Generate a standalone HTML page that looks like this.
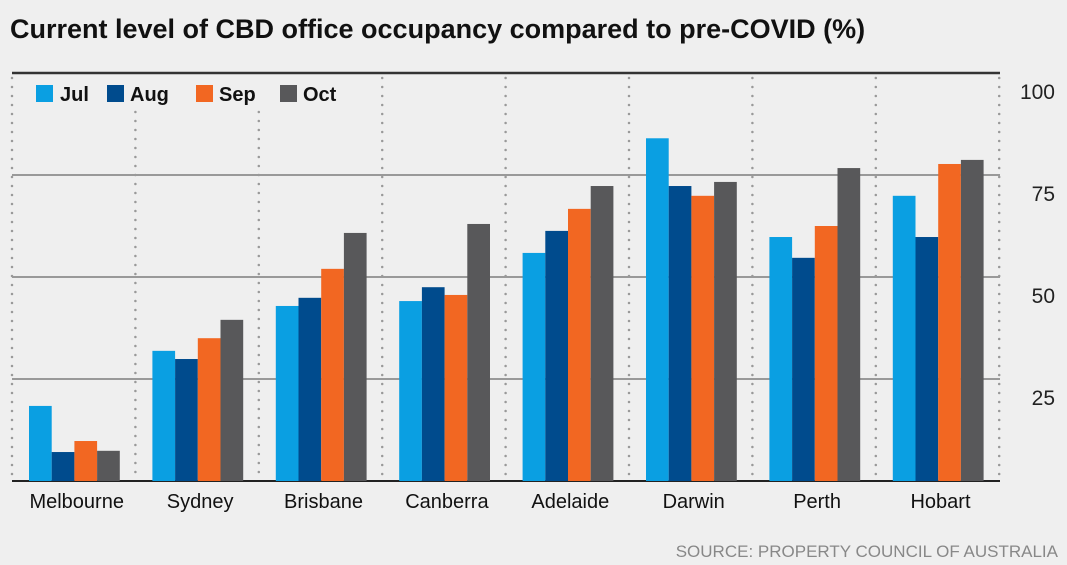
<!DOCTYPE html>
<html><head><meta charset="utf-8"><style>
body{margin:0;background:#efefef;}
svg{display:block;font-family:"Liberation Sans",sans-serif;}
</style></head><body>
<svg id="c" width="1067" height="565" viewBox="0 0 1067 565">
<rect width="1067" height="565" fill="#efefef"/>
<text x="10" y="38" font-size="27" font-weight="bold" fill="#111">Current level of CBD office occupancy compared to pre-COVID (%)</text>
<g id="grid"></g><g id="bars"></g><g id="labels"></g>
<g font-size="20" font-weight="bold" fill="#111">
<rect x="36" y="85" width="17" height="17" fill="#0a9fe2"/><text x="60" y="101">Jul</text>
<rect x="107" y="85" width="17" height="17" fill="#004b8d"/><text x="130" y="101">Aug</text>
<rect x="196" y="85" width="17" height="17" fill="#f26722"/><text x="219" y="101">Sep</text>
<rect x="280" y="85" width="17" height="17" fill="#58585a"/><text x="303" y="101">Oct</text>
</g>
<text x="1058" y="557" font-size="17" fill="#888" text-anchor="end">SOURCE: PROPERTY COUNCIL OF AUSTRALIA</text>
</svg>
<script>
const categories=["Melbourne","Sydney","Brisbane","Canberra","Adelaide","Darwin","Perth","Hobart"];
const julValues=[18.4,31.9,42.9,44.1,55.9,84,59.8,69.9];
const augValues=[7.1,29.9,44.9,47.5,61.3,72.3,54.7,59.8];
const sepValues=[9.8,35,52,45.6,66.7,69.9,62.5,77.7];
const octValues=[7.4,39.5,60.8,63,72.3,73.3,76.7,78.7];
const tickValues=[25,50,75,100];
const seriesNames=["jul","aug","sep","oct"];
const colors=["#0a9fe2","#004b8d","#f26722","#58585a"];
const NS="http://www.w3.org/2000/svg";
const x0=12,gw=123.4,y0=481,pxPer=4.08;
const y=v=>y0-v*pxPer;
const gx=i=>x0+i*gw;
function mk(t,a,p){const e=document.createElementNS(NS,t);for(const k in a)e.setAttribute(k,a[k]);p.appendChild(e);return e;}
const grid=document.getElementById('grid'),bars=document.getElementById('bars'),labels=document.getElementById('labels');
tickValues.forEach(v=>{
 const l=mk('line',{x1:12,x2:1000,y1:y(v),y2:y(v),stroke:v===100?'#333':'#999','stroke-width':v===100?2.5:2},grid);
 
 
 const t=mk('text',{x:1055,y:y(v)+26,'text-anchor':'end','font-size':21,fill:'#222'},grid);t.textContent=v;
 
 
});
for(let i=0;i<=8;i++){
 const top=(i===1||i===2)?112:78;
 const l=mk('line',{x1:gx(i),x2:gx(i),y1:top,y2:y0,stroke:'#999','stroke-width':2.5,'stroke-dasharray':'0 9','stroke-linecap':'round'},grid);
 
 
}
const base=mk('line',{x1:12,x2:1000,y1:y0,y2:y0,stroke:'#222','stroke-width':2},grid);


const series=[julValues,augValues,sepValues,octValues];
categories.forEach((c,i)=>{
 series.forEach((s,j)=>{
  const r=mk('rect',{x:gx(i)+17+j*22.7,y:y(s[i]),width:22.7,height:s[i]*pxPer,fill:colors[j]},bars);
  
  
 });
 const t=mk('text',{x:gx(i)+gw/2+3,y:508,'text-anchor':'middle','font-size':20,fill:'#111'},labels);
 t.textContent=c;
 
 
});
</script>
</body></html>
